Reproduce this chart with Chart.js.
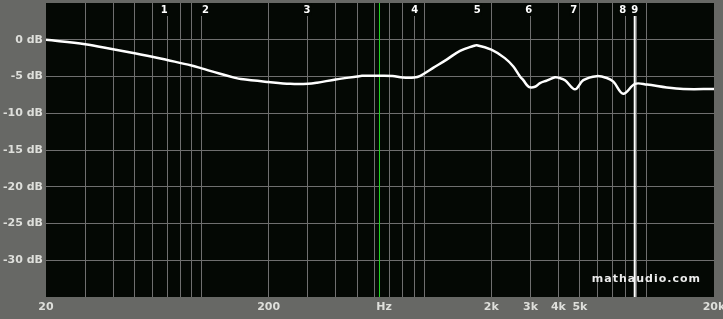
<!DOCTYPE html>
<html>
<head>
<meta charset="utf-8">
<script src="https://cdn.jsdelivr.net/npm/chart.js@4/dist/chart.umd.min.js"></script>
<style>
  html, body { margin: 0; padding: 0; background: #676865; }
  canvas { display: block; }
</style>
</head>
<body>
<canvas id="eq" width="723" height="319"></canvas>
<script>
// response curve (Hz / dB)
const freqs = [20, 30, 40, 50, 60, 70, 90, 100, 120, 140, 150, 200, 250, 300, 330, 400, 500, 525, 625, 720,
               800, 900, 960, 1100, 1260, 1447, 1660, 1720, 2000, 2300, 2511, 2690, 2783, 2944, 3141,
               3308, 3545, 3863, 4000, 4284, 4750, 5176, 5947, 6600, 7063, 7830, 8835, 10000, 12270, 14560, 20000];
const gains = [0, -0.6, -1.3, -1.85, -2.3, -2.75, -3.5, -3.9, -4.6, -5.15, -5.35, -5.75, -6.0, -6.0, -5.85, -5.4, -5.0, -4.9, -4.9, -4.93,
               -5.15, -5.15, -4.9, -3.8, -2.7, -1.5, -0.85, -0.75, -1.35, -2.5, -3.65, -5.0, -5.5, -6.4, -6.4,
               -5.9, -5.55, -5.1, -5.15, -5.5, -6.75, -5.5, -4.95, -5.2, -5.7, -7.35, -6.0, -6.1, -6.5, -6.7, -6.7];

const gridFreqs = [30, 40, 50, 60, 70, 80, 90, 100, 200, 300, 400, 500, 600, 700, 800, 900, 1000,
                   2000, 3000, 4000, 5000, 6000, 7000, 8000, 9000, 10000];
const tickFreqs = [20, 200, 659, 2000, 3000, 4000, 5000, 20000];
const tickText  = ['20', '200', 'Hz', '2k', '3k', '4k', '5k', '20k'];

const markerFreqs  = [68, 104, 297, 905, 1730, 2944, 4690, 7780, 8810];
const markerLabels = ['1', '2', '3', '4', '5', '6', '7', '8', '9'];
const cursorFreq = 626;

const GRID = '#6f6f6f';
const TEXT = '#dedfdb';
const FONT = { family: 'DejaVu Sans', size: 11, weight: 'bold' };

const allTicks = [...new Set([...gridFreqs, ...tickFreqs])].sort((a, b) => a - b);

const bgPlugin = {
    id: 'bg',
    beforeDraw(chart) {
        const { ctx, chartArea: a } = chart;
        ctx.save();
        ctx.fillStyle = '#676865';
        ctx.fillRect(0, 0, chart.width, chart.height);
        ctx.fillStyle = '#040804';
        ctx.fillRect(a.left, a.top, a.right - a.left, a.bottom - a.top);
        ctx.restore();
    }
};

const markerPlugin = {
    id: 'markers',
    beforeDatasetsDraw(chart) {
        const { ctx, chartArea: a } = chart;
        const xs = chart.scales.x;
        ctx.save();
        // green cursor
        const cx = Math.round(xs.getPixelForValue(cursorFreq)) + 0.5;
        ctx.strokeStyle = '#22d022';
        ctx.lineWidth = 1;
        ctx.beginPath(); ctx.moveTo(cx, a.top); ctx.lineTo(cx, a.bottom); ctx.stroke();

        ctx.font = 'bold 10px "DejaVu Sans"';
        ctx.textAlign = 'center';
        ctx.textBaseline = 'middle';
        markerFreqs.forEach((f, i) => {
            const x = xs.getPixelForValue(f);
            const w = ctx.measureText(markerLabels[i]).width + 2;
            ctx.fillStyle = '#040804';
            ctx.fillRect(x - w / 2, a.top, w, 13);
            ctx.fillStyle = '#ffffff';
            ctx.fillText(markerLabels[i], x, a.top + 7);
        });

        // last marker line
        const mx = xs.getPixelForValue(markerFreqs[markerFreqs.length - 1]);
        ctx.strokeStyle = '#ffffff';
        ctx.lineWidth = 2;
        ctx.beginPath(); ctx.moveTo(mx, a.top + 13); ctx.lineTo(mx, a.bottom); ctx.stroke();
        ctx.restore();
    },
    afterDraw(chart) {
        const { ctx } = chart;
        ctx.save();
        ctx.font = 'bold 11px "DejaVu Sans"';
        ctx.letterSpacing = '1px';
        ctx.fillStyle = '#ececec';
        ctx.textAlign = 'right';
        ctx.textBaseline = 'middle';
        ctx.fillText('mathaudio.com', 701, 279);
        ctx.restore();
    }
};

new Chart(document.getElementById('eq'), {
    type: 'line',
    data: {
        datasets: [{
            data: freqs.map((f, i) => ({ x: f, y: gains[i] })),
            borderColor: '#ffffff',
            borderWidth: 2.5,
            pointRadius: 0,
            tension: 0.35,
            fill: false
        }]
    },
    options: {
        responsive: false,
        animation: false,
        layout: { padding: { top: 3, right: 9, left: 0, bottom: 0 } },
        plugins: { legend: { display: false }, tooltip: { enabled: false } },
        scales: {
            x: {
                type: 'logarithmic',
                min: 20, max: 20000,
                border: { display: false },
                grid: {
                    color: c => (c.tick && gridFreqs.includes(c.tick.value)) ? GRID : 'rgba(0,0,0,0)',
                    drawTicks: false
                },
                afterBuildTicks: s => { s.ticks = allTicks.map(v => ({ value: v })); },
                afterFit: s => { s.height = 22; s.paddingLeft = 0; s.paddingRight = 0; },
                ticks: {
                    autoSkip: false, maxRotation: 0, padding: 4,
                    color: TEXT, font: FONT,
                    callback: v => { const i = tickFreqs.indexOf(v); return i < 0 ? '' : tickText[i]; }
                }
            },
            y: {
                min: -35, max: 5,
                border: { display: false },
                grid: {
                    color: c => (c.tick && (c.tick.value === 5 || c.tick.value === -35)) ? 'rgba(0,0,0,0)' : GRID,
                    drawTicks: false
                },
                afterFit: s => { s.width = 46; s.paddingTop = 0; s.paddingBottom = 0; },
                ticks: {
                    stepSize: 5, padding: 3,
                    color: TEXT, font: FONT,
                    callback: v => (v === 5 || v === -35) ? '' : v + ' dB'
                }
            }
        }
    },
    plugins: [bgPlugin, markerPlugin]
});
</script>
</body>
</html>
